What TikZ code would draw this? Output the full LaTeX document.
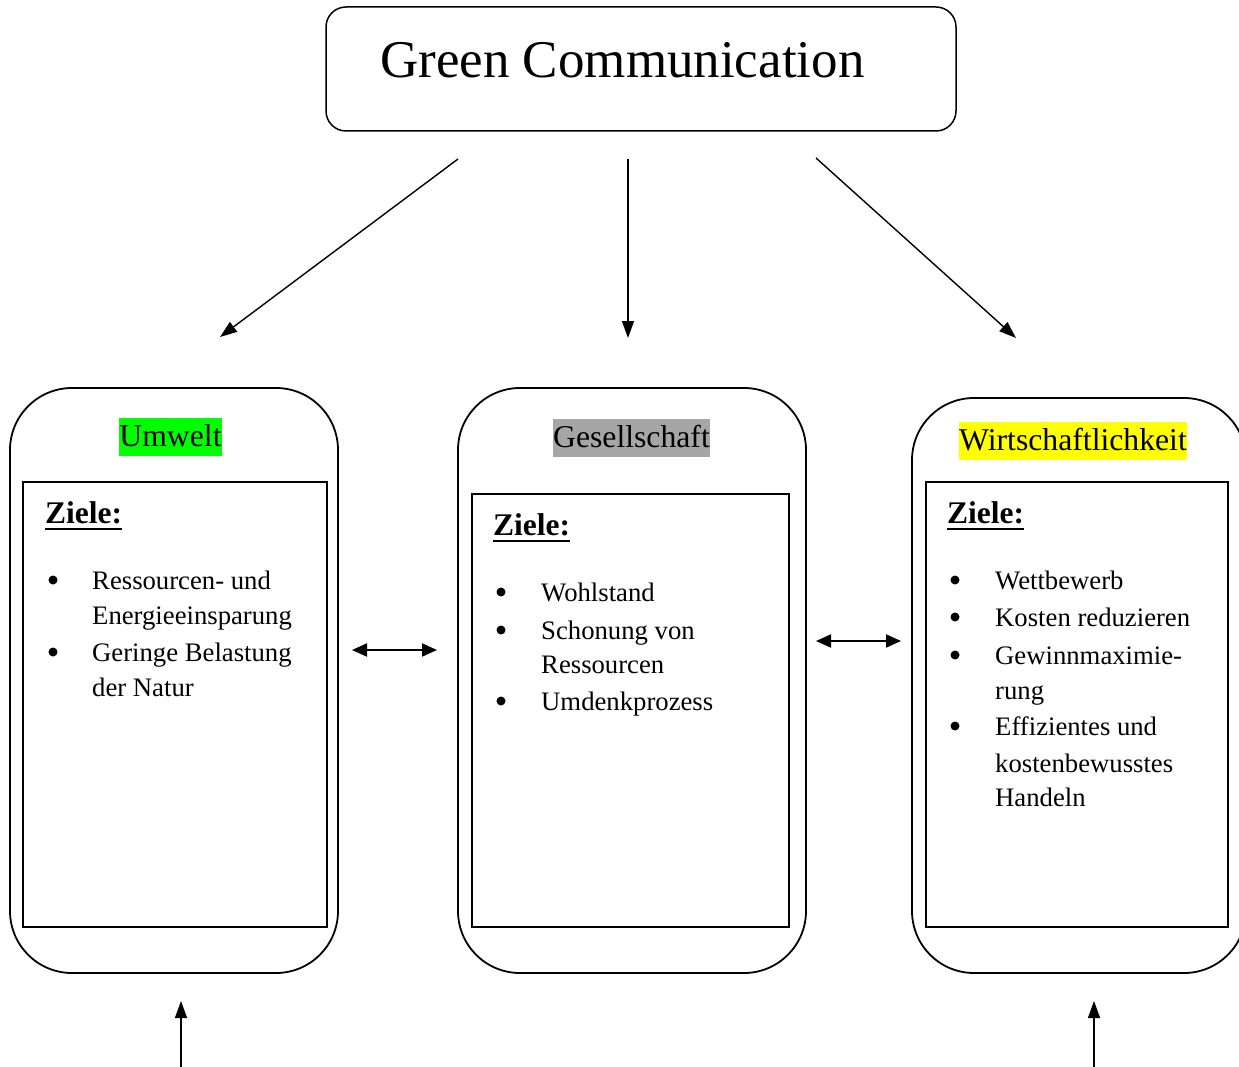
\documentclass[tikz,border=0pt]{standalone}
\usepackage{fontspec}
\setmainfont{Liberation Serif}
\usetikzlibrary{arrows.meta}
\definecolor{hlgreen}{RGB}{0,255,0}
\definecolor{hlgray}{RGB}{166,166,166}
\definecolor{hlyellow}{RGB}{255,255,0}
\tikzset{
  outerbox/.style={draw, line width=1.8pt, rounded corners=62pt},
  innerbox/.style={draw, line width=1.4pt},
  conn/.style={line width=1.4pt, -{Triangle[length=17pt,width=12pt]}},
  dconn/.style={line width=2pt, {Triangle[length=15pt,width=13pt]}-{Triangle[length=15pt,width=13pt]}},
  head/.style={inner sep=0pt, text height=28pt, text depth=10pt, font=\fontsize{31.7}{36}\selectfont},
  zl/.style={anchor=base west, inner sep=0pt, font=\fontsize{31.5}{36}\selectfont\bfseries},
  ul/.style={line width=2.6pt},
  itm/.style={anchor=base west, inner sep=0pt, font=\fontsize{26.7}{36}\selectfont},
  bul/.style={circle, fill, inner sep=0pt, minimum size=9pt},
}
\begin{document}
\begin{tikzpicture}[x=1pt,y=-1pt]
\clip (0,0) rectangle (1239,1067);
% top box
\draw[line width=1.5pt, rounded corners=20pt] (326,7) rectangle (956,131);
\node[anchor=base west, inner sep=0pt, font=\fontsize{53}{60}\selectfont] (title) at (380,78) {Green Communication};
% outer boxes
\draw[outerbox] (10,388) rectangle (338,973);
\draw[outerbox] (458,388) rectangle (806,973);
\draw[outerbox] (912,398) rectangle (1246,973);
% inner boxes
\draw[innerbox] (23,482) rectangle (327,927);
\draw[innerbox] (472,494) rectangle (789,927);
\draw[innerbox] (926,482) rectangle (1228,927);
% headers
\node[head, fill=hlgreen] (hU) at (170.5,437) {Umwelt};
\node[head, fill=hlgray] (hG) at (631.5,438) {Gesellschaft};
\node[head, fill=hlyellow] (hW) at (1073,441) {Wirtschaftlichkeit};
% Ziele
\node[zl] (z1) at (45,523) {Ziele:};
\node[zl] (z2) at (493,535) {Ziele:};
\node[zl] (z3) at (947,523) {Ziele:};
\foreach \z in {z1,z2,z3}{
  \draw[ul] ([yshift=-6pt]\z.base west) -- ([yshift=-6pt]\z.base east);
}
% left items
\node[bul] (b11) at (53,580) {};
\node[itm] (t11) at (92,589) {Ressourcen- und};
\node[itm] (t12) at (92,624) {Energieeinsparung};
\node[bul] (b12) at (53,652) {};
\node[itm] (t13) at (92,661) {Geringe Belastung};
\node[itm] (t14) at (92,696) {der Natur};
% middle items
\node[bul] (b21) at (501,592) {};
\node[itm] (t21) at (541,601) {Wohlstand};
\node[bul] (b22) at (501,630) {};
\node[itm] (t22) at (541,639) {Schonung von};
\node[itm] (t23) at (541,673) {Ressourcen};
\node[bul] (b23) at (501,701) {};
\node[itm] (t24) at (541,710) {Umdenkprozess};
% right items
\node[bul] (b31) at (955,580) {};
\node[itm] (t31) at (995,589) {Wettbewerb};
\node[bul] (b32) at (955,617) {};
\node[itm] (t32) at (995,626) {Kosten reduzieren};
\node[bul] (b33) at (955,655) {};
\node[itm] (t33) at (995,664) {Gewinnmaximie-};
\node[itm] (t34) at (995,699) {rung};
\node[bul] (b34) at (955,726) {};
\node[itm] (t35) at (995,735) {Effizientes und};
\node[itm] (t36) at (995,772) {kostenbewusstes};
\node[itm] (t37) at (995,806) {Handeln};
% arrow coordinates
\coordinate (a1s) at (458,159); \coordinate (a1e) at (220,337);
\coordinate (a2s) at (628,159); \coordinate (a2e) at (628,338);
\coordinate (a3s) at (816,158); \coordinate (a3e) at (1016,338);
\coordinate (d1s) at (352,650); \coordinate (d1e) at (437,650);
\coordinate (d2s) at (816,641); \coordinate (d2e) at (901,641);
\coordinate (u1s) at (181,1067); \coordinate (u1e) at (181,1001);
\coordinate (u2s) at (1094,1067); \coordinate (u2e) at (1094,1001);
\draw[conn] (a1s) -- (a1e);
\draw[conn] (a2s) -- (a2e);
\draw[conn] (a3s) -- (a3e);
\draw[dconn] (d1s) -- (d1e);
\draw[dconn] (d2s) -- (d2e);
\draw[conn] (u1s) -- (u1e);
\draw[conn] (u2s) -- (u2e);
\end{tikzpicture}
\end{document}
